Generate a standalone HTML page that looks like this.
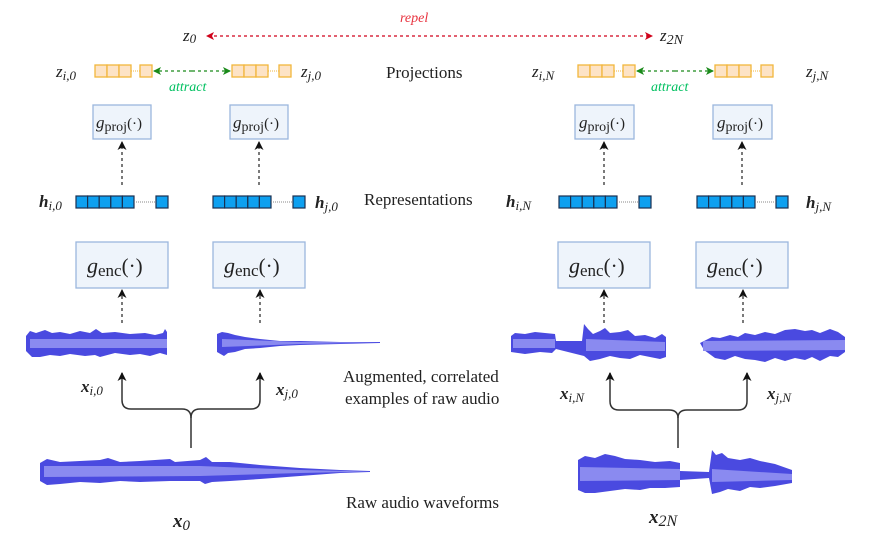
<!DOCTYPE html>
<html><head><meta charset="utf-8"><style>
html,body{margin:0;padding:0;background:#fff;}
svg{display:block;}
.s{font-family:"Liberation Serif",serif;}
</style></head><body>
<svg width="890" height="534" viewBox="0 0 890 534" xmlns="http://www.w3.org/2000/svg">
<defs>
<marker id="ar" markerWidth="8" markerHeight="8" refX="7" refY="4" orient="auto" markerUnits="userSpaceOnUse"><path d="M0,0 L8,4 L0,8 L2,4 Z" fill="#d0021b"/></marker>
<marker id="ag" markerWidth="8" markerHeight="8" refX="7" refY="4" orient="auto" markerUnits="userSpaceOnUse"><path d="M0,0 L8,4 L0,8 L2,4 Z" fill="#1a8a1a"/></marker>
<marker id="ak" markerWidth="9" markerHeight="9" refX="8" refY="4.5" orient="auto" markerUnits="userSpaceOnUse"><path d="M0,0 L9,4.5 L0,9 L2.5,4.5 Z" fill="#111"/></marker>
</defs>
<g class="s">
<text x="400" y="22" font-size="14" font-style="italic" fill="#e8333f">repel</text>
<line x1="214" y1="36" x2="652" y2="36" stroke="#d0021b" stroke-width="1.3" stroke-dasharray="3,3" marker-end="url(#ar)"/>
<line x1="652" y1="36" x2="207" y2="36" stroke="#d0021b" stroke-width="0" marker-end="url(#ar)"/>
<text x="183" y="41" font-size="17" font-style="italic" fill="#222">z<tspan font-size="13" dy="2">0</tspan></text>
<text x="660" y="41" font-size="17" font-style="italic" fill="#222">z<tspan font-size="14" dy="3">2N</tspan></text>

<g fill="#fde3c6" stroke="#f2b63c" stroke-width="1.3">
<rect x="95" y="65" width="12" height="12"/><rect x="107" y="65" width="12" height="12"/><rect x="119" y="65" width="12" height="12"/><rect x="140" y="65" width="12" height="12"/>
<rect x="232" y="65" width="12" height="12"/><rect x="244" y="65" width="12" height="12"/><rect x="256" y="65" width="12" height="12"/><rect x="279" y="65" width="12" height="12"/>
<rect x="578" y="65" width="12" height="12"/><rect x="590" y="65" width="12" height="12"/><rect x="602" y="65" width="12" height="12"/><rect x="623" y="65" width="12" height="12"/>
<rect x="715" y="65" width="12" height="12"/><rect x="727" y="65" width="12" height="12"/><rect x="739" y="65" width="12" height="12"/><rect x="761" y="65" width="12" height="12"/>
</g>
<g stroke="#f2b63c" stroke-width="1" stroke-dasharray="1,1"><line x1="131" y1="71" x2="140" y2="71"/><line x1="268" y1="71" x2="279" y2="71"/><line x1="614" y1="71" x2="623" y2="71"/><line x1="751" y1="71" x2="761" y2="71"/></g>
<g stroke="#1a8a1a" stroke-width="1.3" stroke-dasharray="3,3">
<line x1="192" y1="71" x2="230" y2="71" marker-end="url(#ag)"/><line x1="192" y1="71" x2="154" y2="71" marker-end="url(#ag)"/>
<line x1="675" y1="71" x2="713" y2="71" marker-end="url(#ag)"/><line x1="675" y1="71" x2="637" y2="71" marker-end="url(#ag)"/>
</g>
<text x="169" y="91" font-size="14" font-style="italic" fill="#00c060">attract</text>
<text x="651" y="91" font-size="14" font-style="italic" fill="#00c060">attract</text>
<text x="56" y="77" font-size="17" font-style="italic" fill="#222">z<tspan font-size="13" dy="3">i,0</tspan></text>
<text x="301" y="77" font-size="17" font-style="italic" fill="#222">z<tspan font-size="13" dy="3">j,0</tspan></text>
<text x="532" y="77" font-size="17" font-style="italic" fill="#222">z<tspan font-size="13" dy="3">i,N</tspan></text>
<text x="806" y="77" font-size="17" font-style="italic" fill="#222">z<tspan font-size="13" dy="3">j,N</tspan></text>
<text x="386" y="78" font-size="17" fill="#222">Projections</text>

<g fill="#eef4fb" stroke="#9bb7dd" stroke-width="1.3">
<rect x="93" y="105" width="58" height="34"/><rect x="230" y="105" width="58" height="34"/>
<rect x="575" y="105" width="59" height="34"/><rect x="713" y="105" width="59" height="34"/>
</g>
<g font-size="17" fill="#222">
<text x="96" y="128" font-style="italic">g<tspan font-style="normal" font-size="14" dy="3">proj</tspan><tspan font-style="normal" font-size="15" dy="-3">(·)</tspan></text>
<text x="233" y="128" font-style="italic">g<tspan font-style="normal" font-size="14" dy="3">proj</tspan><tspan font-style="normal" font-size="15" dy="-3">(·)</tspan></text>
<text x="579" y="128" font-style="italic">g<tspan font-style="normal" font-size="14" dy="3">proj</tspan><tspan font-style="normal" font-size="15" dy="-3">(·)</tspan></text>
<text x="717" y="128" font-style="italic">g<tspan font-style="normal" font-size="14" dy="3">proj</tspan><tspan font-style="normal" font-size="15" dy="-3">(·)</tspan></text>
</g>
<g stroke="#222" stroke-width="1.2" stroke-dasharray="3,3">
<line x1="122" y1="185" x2="122" y2="142" marker-end="url(#ak)"/><line x1="259" y1="185" x2="259" y2="142" marker-end="url(#ak)"/>
<line x1="604" y1="185" x2="604" y2="142" marker-end="url(#ak)"/><line x1="742" y1="185" x2="742" y2="142" marker-end="url(#ak)"/>
</g>

<g fill="#0ea0f0" stroke="#1a3050" stroke-width="1.2">
<rect x="76" y="196" width="11.6" height="12"/><rect x="87.6" y="196" width="11.6" height="12"/><rect x="99.2" y="196" width="11.6" height="12"/><rect x="110.8" y="196" width="11.6" height="12"/><rect x="122.4" y="196" width="11.6" height="12"/><rect x="156" y="196" width="12" height="12"/>
<rect x="213" y="196" width="11.6" height="12"/><rect x="224.6" y="196" width="11.6" height="12"/><rect x="236.2" y="196" width="11.6" height="12"/><rect x="247.8" y="196" width="11.6" height="12"/><rect x="259.4" y="196" width="11.6" height="12"/><rect x="293" y="196" width="12" height="12"/>
<rect x="559" y="196" width="11.6" height="12"/><rect x="570.6" y="196" width="11.6" height="12"/><rect x="582.2" y="196" width="11.6" height="12"/><rect x="593.8" y="196" width="11.6" height="12"/><rect x="605.4" y="196" width="11.6" height="12"/><rect x="639" y="196" width="12" height="12"/>
<rect x="697" y="196" width="11.6" height="12"/><rect x="708.6" y="196" width="11.6" height="12"/><rect x="720.2" y="196" width="11.6" height="12"/><rect x="731.8" y="196" width="11.6" height="12"/><rect x="743.4" y="196" width="11.6" height="12"/><rect x="776" y="196" width="12" height="12"/>
</g>
<g stroke="#888" stroke-width="1" stroke-dasharray="1,1"><line x1="134" y1="202" x2="156" y2="202"/><line x1="271" y1="202" x2="293" y2="202"/><line x1="617" y1="202" x2="639" y2="202"/><line x1="755" y1="202" x2="776" y2="202"/></g>
<g font-size="17" font-style="italic" font-weight="bold" fill="#222">
<text x="39" y="207">h<tspan font-size="13" font-weight="normal" dy="3">i,0</tspan></text>
<text x="315" y="208">h<tspan font-size="13" font-weight="normal" dy="3">j,0</tspan></text>
<text x="506" y="207">h<tspan font-size="13" font-weight="normal" dy="3">i,N</tspan></text>
<text x="806" y="208">h<tspan font-size="13" font-weight="normal" dy="3">j,N</tspan></text>
</g>
<text x="364" y="205" font-size="17" fill="#222">Representations</text>

<g fill="#eef4fb" stroke="#9bb7dd" stroke-width="1.3">
<rect x="76" y="242" width="92" height="46"/><rect x="213" y="242" width="92" height="46"/>
<rect x="558" y="242" width="92" height="46"/><rect x="696" y="242" width="92" height="46"/>
</g>
<g font-size="22" fill="#222">
<text x="87" y="273" font-style="italic">g<tspan font-style="normal" font-size="17" dy="3">enc</tspan><tspan font-style="normal" font-size="21" dy="-3">(·)</tspan></text>
<text x="224" y="273" font-style="italic">g<tspan font-style="normal" font-size="17" dy="3">enc</tspan><tspan font-style="normal" font-size="21" dy="-3">(·)</tspan></text>
<text x="569" y="273" font-style="italic">g<tspan font-style="normal" font-size="17" dy="3">enc</tspan><tspan font-style="normal" font-size="21" dy="-3">(·)</tspan></text>
<text x="707" y="273" font-style="italic">g<tspan font-style="normal" font-size="17" dy="3">enc</tspan><tspan font-style="normal" font-size="21" dy="-3">(·)</tspan></text>
</g>
<g stroke="#222" stroke-width="1.2" stroke-dasharray="3,3">
<line x1="122" y1="323" x2="122" y2="290" marker-end="url(#ak)"/><line x1="260" y1="323" x2="260" y2="290" marker-end="url(#ak)"/>
<line x1="604" y1="323" x2="604" y2="290" marker-end="url(#ak)"/><line x1="743" y1="323" x2="743" y2="290" marker-end="url(#ak)"/>
</g>

<g fill="#4a4ae0">
<path d="M26,336 L30,331 L36,333 L45,330 L52,333 L60,332 L70,334 L80,331 L90,333 L96,329 L102,333 L115,332 L130,334 L145,333 L155,335 L163,333 L165,329 L167,332 L167,355 L160,353 L150,356 L140,354 L130,355 L115,353 L100,357 L95,355 L85,356 L70,354 L60,356 L50,355 L40,357 L32,357 L26,351 Z"/>
<path d="M217,334 L222,332 L228,333 L235,335 L245,337 L260,339 L280,341 L300,341 L340,342 L380,342 L380,343 L340,344 L300,345 L280,346 L260,348 L245,349 L235,352 L228,353 L224,356 L217,352 Z"/>
<path d="M40,463 L47,459 L60,462 L80,461 L100,460 L108,458 L120,462 L140,461 L170,459 L175,462 L200,460 L206,457 L212,462 L230,462 L260,465 L300,468 L340,470 L370,471 L370,472 L340,473 L300,476 L260,479 L230,481 L212,482 L205,484 L200,481 L170,481 L140,482 L120,481 L100,483 L80,482 L60,484 L47,485 L40,481 Z"/>
<path d="M511,336 L515,333 L525,334 L535,332 L555,334 L556,341 L582,341 L584,324 L588,329 L593,334 L600,331 L605,328 L610,333 L620,332 L628,330 L635,336 L645,335 L655,338 L662,334 L666,337 L666,357 L660,359 L650,357 L640,355 L630,359 L620,358 L610,356 L600,359 L590,361 L584,356 L556,349 L552,353 L540,352 L525,354 L511,352 Z"/>
<path d="M700,343 L706,340 L712,337 L720,338 L730,335 L738,337 L745,333 L755,335 L765,332 L775,334 L785,330 L795,329 L805,331 L812,330 L820,333 L830,329 L838,332 L845,337 L845,352 L838,357 L830,356 L820,361 L812,357 L805,360 L795,358 L785,361 L775,358 L765,362 L755,360 L745,359 L735,356 L725,360 L715,358 L704,350 Z"/>
<path d="M578,460 L585,456 L595,458 L605,454 L615,456 L625,459 L640,460 L655,462 L670,461 L680,463 L680,471 L709,472 L712,450 L716,455 L722,453 L728,458 L740,460 L750,458 L760,461 L775,464 L792,470 L792,483 L775,486 L760,488 L750,487 L740,491 L728,489 L720,492 L712,494 L709,478 L680,480 L680,487 L665,488 L650,488 L640,490 L625,489 L610,491 L595,493 L585,493 L578,490 Z"/>
</g>
<g fill="#8a8af0">
<path d="M30,339 L167,339 L167,348 L30,348 Z"/>
<path d="M222,339 L300,342 L380,342.5 L300,344 L222,347 Z"/>
<path d="M44,466 L200,466 L300,470 L370,471.5 L300,473 L200,476 L44,477 Z"/>
<path d="M513,339 L555,339 L555,348 L513,348 Z M586,339 L665,342 L665,351 L586,351 Z"/>
<path d="M703,341 L845,340 L845,350 L703,351 Z"/>
<path d="M580,467 L680,469 L680,480 L580,481 Z M712,469 L792,474 L792,480 L712,482 Z"/>
</g>

<g fill="none" stroke="#333" stroke-width="1.5">
<path d="M191,448 L191,418 Q191,409 182,409 L131,409 Q122,409 122,400 L122,373" marker-end="url(#ak)"/>
<path d="M191,418 Q191,409 200,409 L251,409 Q260,409 260,400 L260,373" marker-end="url(#ak)"/>
<path d="M678,448 L678,418 Q678,410 669,410 L619,410 Q610,410 610,401 L610,373" marker-end="url(#ak)"/>
<path d="M678,418 Q678,410 687,410 L738,410 Q747,410 747,401 L747,373" marker-end="url(#ak)"/>
</g>
<g font-size="17" font-style="italic" font-weight="bold" fill="#222">
<text x="81" y="392">x<tspan font-size="13" font-weight="normal" dy="3">i,0</tspan></text>
<text x="276" y="395">x<tspan font-size="13" font-weight="normal" dy="3">j,0</tspan></text>
<text x="560" y="399">x<tspan font-size="13" font-weight="normal" dy="3">i,N</tspan></text>
<text x="767" y="399">x<tspan font-size="13" font-weight="normal" dy="3">j,N</tspan></text>
<text x="173" y="527" font-size="19">x<tspan font-size="15" font-weight="normal" dy="3">0</tspan></text>
<text x="649" y="523" font-size="19">x<tspan font-size="16" font-weight="normal" dy="3">2N</tspan></text>
</g>
<g font-size="17" fill="#222">
<text x="343" y="382">Augmented, correlated</text>
<text x="345" y="404">examples of raw audio</text>
<text x="346" y="508">Raw audio waveforms</text>
</g>
</g>
</svg>
</body></html>
